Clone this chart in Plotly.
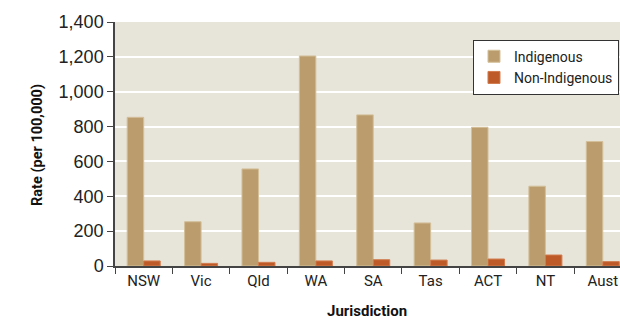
import plotly.graph_objects as go

categories = ["NSW", "Vic", "Qld", "WA", "SA", "Tas", "ACT", "NT", "Aust"]
indigenous = [853, 254, 557, 1205, 867, 247, 796, 458, 714]
non_indigenous = [29, 15, 21, 29, 36, 34, 40, 63, 25]
y_ticks = [0, 200, 400, 600, 800, 1000, 1200, 1400]

TXT = "Roboto, Liberation Sans, sans-serif"

fig = go.Figure()
fig.add_trace(go.Bar(
    x=categories, y=indigenous, name="Indigenous",
    marker=dict(color="#BB9D6D", line=dict(color="#D3BF99", width=1)),
))
fig.add_trace(go.Bar(
    x=categories, y=non_indigenous, name="Non-Indigenous",
    marker=dict(color="#BD5A27", line=dict(color="#D27C4E", width=1)),
))

fig.update_layout(
    width=620, height=319,
    margin=dict(l=115, r=0, t=22, b=53, autoexpand=False),
    paper_bgcolor="white",
    plot_bgcolor="#E7E4DA",
    barmode="group",
    bargap=0.425,
    bargroupgap=0.0,
    showlegend=True,
    legend=dict(
        x=0.998, y=0.815, xanchor="right", yanchor="middle",
        bgcolor="white", bordercolor="#333333", borderwidth=1,
        font=dict(family=TXT, size=14, color="#222222"),
        itemwidth=30, tracegroupgap=0,
    ),
    xaxis=dict(
        type="category",
        range=[-0.5, 8.30],
        automargin=False,
        tickson="boundaries",
        ticks="outside", ticklen=6, tickcolor="#444444", tickwidth=1,
        showline=True, linecolor="#444444", linewidth=1.5,
        showgrid=False,
        tickfont=dict(family=TXT, size=15, color="#222222"),
    ),
    yaxis=dict(
        range=[0, 1400],
        automargin=False,
        tickvals=y_ticks,
        tickformat=",",
        ticks="outside", ticklen=6, tickcolor="#444444", tickwidth=1,
        showline=True, linecolor="#444444", linewidth=1.5,
        showgrid=True, gridcolor="white", gridwidth=1.5,
        zeroline=False,
        tickfont=dict(family="Liberation Sans, Arial, sans-serif", size=18, color="#222222"),
    ),
    annotations=[
        dict(text="<b>Jurisdiction</b>", xref="paper", yref="paper",
             x=0.499, y=-0.184, xanchor="center", yanchor="middle",
             showarrow=False, font=dict(family=TXT, size=15, color="#111111")),
        dict(text="<b>Rate (per 100,000)</b>", xref="paper", yref="paper",
             x=-0.1525, y=0.496, xanchor="center", yanchor="middle",
             textangle=-90, showarrow=False,
             font=dict(family=TXT, size=14.5, color="#111111")),
    ],
)

# remove the browser's default 8px body margin so the figure fills the window exactly
fig.write_html(
    "out.html",
    config={"displayModeBar": False},
    post_script="document.body.style.margin='0';document.body.style.overflow='hidden';",
)
